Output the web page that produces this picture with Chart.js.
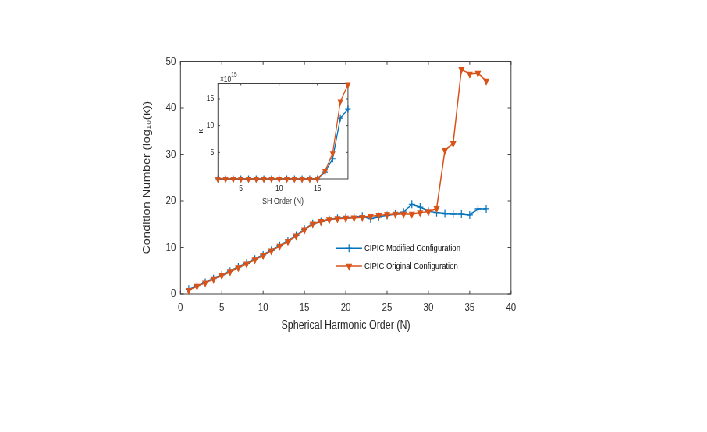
<!DOCTYPE html>
<html>
<head>
<meta charset="utf-8">
<script src="https://cdn.jsdelivr.net/npm/chart.js@4.4.0/dist/chart.umd.min.js"></script>
<style>
html, body { margin: 0; padding: 0; overflow: hidden; background: #fff; }
/* a figura original tem o texto comprimido na horizontal: desenho largo e comprimo */
#quadro { position: absolute; left: 0; top: 0; width: 906px; height: 432px; transform: scaleX(0.7804); transform-origin: 0 0; }
#principal { position: absolute; left: 0; top: 0; }
#detalhe { position: absolute; left: 250px; top: 65px; }
</style>
</head>
<body>
<div id="quadro">
  <canvas id="principal" width="906" height="432"></canvas>
  <canvas id="detalhe" width="204" height="150"></canvas>
</div>
<script>
// Ordem harmonica (eixo x do grafico principal)
const ordemSH = [1, 2, 3, 4, 5, 6, 7, 8, 9, 10, 11, 12, 13, 14, 15, 16, 17, 18, 19, 20,
                 21, 22, 23, 24, 25, 26, 27, 28, 29, 30, 31, 32, 33, 34, 35, 36, 37];
// log10(kappa) - configuracao modificada
const condModificada = [1.0, 1.8, 2.5, 3.3, 4.1, 4.9, 5.8, 6.6, 7.5, 8.4, 9.4, 10.4, 11.4, 12.6, 13.9,
                        15.1, 15.6, 16.0, 16.3, 16.4, 16.5, 16.7, 16.2, 16.6, 16.9, 17.2, 17.6, 19.3,
                        18.7, 17.8, 17.5, 17.3, 17.2, 17.2, 17.0, 18.3, 18.3];
// log10(kappa) - configuracao original
const condOriginal = [0.8, 1.7, 2.4, 3.2, 4.0, 4.8, 5.7, 6.5, 7.4, 8.3, 9.3, 10.3, 11.3, 12.5, 13.8,
                      15.1, 15.6, 16.0, 16.2, 16.3, 16.4, 16.5, 16.7, 16.9, 17.1, 17.2, 17.2, 17.2,
                      17.5, 17.7, 18.4, 30.9, 32.4, 48.3, 47.3, 47.5, 45.8];
const ticksX = [0, 5, 10, 15, 20, 25, 30, 35, 40];
const ticksY = [0, 10, 20, 30, 40, 50];

// Grafico pequeno: kappa em unidades de 10^15
const ordemDetalhe = [2, 3, 4, 5, 6, 7, 8, 9, 10, 11, 12, 13, 14, 15, 16, 17, 18, 19];
const kappaModificada = [0, 0, 0, 0, 0, 0, 0, 0, 0, 0, 0, 0, 0, 0, 1.3, 3.8, 11.4, 13.1];
const kappaOriginal = [0, 0, 0, 0, 0, 0, 0, 0, 0, 0, 0, 0, 0, 0, 1.5, 4.8, 14.5, 17.7];
const ticksXDetalhe = [5, 10, 15];
const ticksYDetalhe = [5, 10, 15];

const nomes = ["CIPIC Modified Configuration", "CIPIC Original Configuration"];
const AZUL = "#0072BD";
const LARANJA = "#D95319";
const TEXTO = "#262626";

Chart.defaults.font.family = "'Liberation Sans', Arial, sans-serif";
Chart.defaults.color = TEXTO;

// caixa estilo MATLAB com marcas para dentro nos quatro lados
const caixaPlugin = {
    id: "caixa",
    beforeDatasetsDraw(chart, args, opts) {
        const { ctx, chartArea: a, scales } = chart;
        ctx.save();
        ctx.strokeStyle = "#404040";
        ctx.lineWidth = 1;
        ctx.strokeRect(a.left, a.top, a.right - a.left, a.bottom - a.top);
        ctx.beginPath();
        scales.x.ticks.forEach(t => {
            const px = scales.x.getPixelForValue(t.value);
            ctx.moveTo(px, a.bottom); ctx.lineTo(px, a.bottom - opts.tx);
            ctx.moveTo(px, a.top); ctx.lineTo(px, a.top + opts.tx);
        });
        scales.y.ticks.forEach(t => {
            const py = scales.y.getPixelForValue(t.value);
            ctx.moveTo(a.left, py); ctx.lineTo(a.left + opts.ty, py);
            ctx.moveTo(a.right, py); ctx.lineTo(a.right - opts.ty, py);
        });
        ctx.stroke();
        ctx.restore();
    }
};

// legenda sem moldura dentro da area do grafico
const legendaPlugin = {
    id: "legenda",
    afterDraw(chart, args, opts) {
        if (!opts.mostrar) return;
        const ctx = chart.ctx;
        chart.data.datasets.forEach((ds, i) => {
            const y = opts.y + i * opts.passo;
            ctx.save();
            ctx.strokeStyle = ds.borderColor;
            ctx.lineWidth = ds.borderWidth;
            ctx.beginPath();
            ctx.moveTo(opts.x, y);
            ctx.lineTo(opts.x + opts.comp, y);
            ctx.stroke();
            ctx.fillStyle = ds.pointBackgroundColor;
            ctx.strokeStyle = ds.pointBorderColor;
            ctx.lineWidth = ds.pointBorderWidth;
            Chart.helpers.drawPoint(ctx, {
                pointStyle: ds.pointStyle,
                rotation: ds.pointRotation || 0,
                radius: ds.pointRadius,
                borderWidth: ds.pointBorderWidth
            }, opts.x + opts.comp / 2, y);
            ctx.fillStyle = "#000";
            ctx.font = opts.fonte;
            ctx.textBaseline = "middle";
            ctx.fillText(ds.label, opts.x + opts.comp + 3, y);
            ctx.restore();
        });
    }
};

// "x10^15" acima do grafico pequeno
const expoentePlugin = {
    id: "expoente",
    afterDraw(chart, args, opts) {
        if (!opts.mostrar) return;
        const ctx = chart.ctx;
        ctx.save();
        ctx.fillStyle = TEXTO;
        ctx.textBaseline = "alphabetic";
        ctx.font = "8.5px 'Liberation Sans', Arial, sans-serif";
        ctx.fillText("\u00d710", opts.x, opts.y);
        const w = ctx.measureText("\u00d710").width;
        ctx.font = "6.5px 'Liberation Sans', Arial, sans-serif";
        ctx.fillText("15", opts.x + w, opts.y - 5);
        ctx.restore();
    }
};

function fixarTicks(lista) {
    return scale => { scale.ticks = lista.map(v => ({ value: v })); };
}

function pontos(xs, ys) {
    return xs.map((x, i) => ({ x: x, y: ys[i] }));
}

function serie(rotulo, xs, ys, cor, estilo, raio, largura) {
    return {
        label: rotulo,
        data: pontos(xs, ys),
        borderColor: cor,
        borderWidth: largura,
        pointStyle: estilo,
        pointRotation: estilo === "triangle" ? 180 : 0,
        pointRadius: raio,
        pointBackgroundColor: cor,
        pointBorderColor: cor,
        pointBorderWidth: 1.2,
        tension: 0,
        clip: false
    };
}

// ---------- grafico principal ----------
const dsAzul = serie(nomes[0], ordemSH, condModificada, AZUL, "cross", 4, 1.5);
const dsLaranja = serie(nomes[1], ordemSH, condOriginal, LARANJA, "triangle", 3.5, 1.5);
dsAzul.order = 2;
dsLaranja.order = 1;

new Chart(document.getElementById("principal").getContext("2d"), {
    type: "line",
    data: { datasets: [dsAzul, dsLaranja] },
    options: {
        responsive: false,
        animation: false,
        devicePixelRatio: 1,
        layout: { padding: { left: 180.9, top: 61.5, right: 251.2, bottom: 98.5 } },
        plugins: {
            legend: { display: false },
            tooltip: { enabled: false },
            caixa: { tx: 3.3, ty: 4.3 },
            legenda: { mostrar: true, x: 430.6, y: 248.3, passo: 17.7, comp: 33.3,
                       fonte: "9.5px 'Liberation Sans', Arial, sans-serif" },
            expoente: { mostrar: false }
        },
        scales: {
            x: {
                type: "linear", min: 0, max: 40,
                grid: { display: false, drawTicks: false },
                border: { display: false },
                afterBuildTicks: fixarTicks(ticksX),
                afterFit: s => { s.height = 39.5; },
                ticks: { padding: 7, font: { size: 11.5 }, color: TEXTO, maxRotation: 0 },
                title: { display: true, text: "Spherical Harmonic Order (N)", padding: 0,
                         font: { size: 12.5 }, color: TEXTO }
            },
            y: {
                type: "linear", min: 0, max: 50,
                grid: { display: false, drawTicks: false },
                border: { display: false },
                afterBuildTicks: fixarTicks(ticksY),
                afterFit: s => { s.width = 50.4; },
                ticks: { padding: 6, font: { size: 11.5 }, color: TEXTO },
                title: { display: true, text: "Condition Number (log\u2081\u2080(\u03ba))", padding: 0,
                         font: { size: 12.5 }, color: TEXTO }
            }
        }
    },
    plugins: [caixaPlugin, legendaPlugin, expoentePlugin]
});

// ---------- grafico pequeno ----------
const dsAzulD = serie(nomes[0], ordemDetalhe, kappaModificada, AZUL, "cross", 3.5, 1.3);
const dsLaranjaD = serie(nomes[1], ordemDetalhe, kappaOriginal, LARANJA, "triangle", 3, 1.3);
dsAzulD.order = 2;
dsLaranjaD.order = 1;

new Chart(document.getElementById("detalhe").getContext("2d"), {
    type: "line",
    data: { datasets: [dsAzulD, dsLaranjaD] },
    options: {
        responsive: false,
        animation: false,
        devicePixelRatio: 1,
        layout: { padding: { left: 2.2, top: 18.5, right: 8.1, bottom: 8 } },
        plugins: {
            legend: { display: false },
            tooltip: { enabled: false },
            caixa: { tx: 2, ty: 2.6 },
            legenda: { mostrar: false },
            expoente: { mostrar: true, x: 31.9, y: 16.7 }
        },
        scales: {
            x: {
                type: "linear", min: 2, max: 19,
                grid: { display: false, drawTicks: false },
                border: { display: false },
                afterBuildTicks: fixarTicks(ticksXDetalhe),
                afterFit: s => { s.height = 28; },
                ticks: { padding: 4.6, font: { size: 8.5 }, color: TEXTO, maxRotation: 0 },
                title: { display: true, text: "SH Order (N)", padding: 0, font: { size: 9 }, color: TEXTO }
            },
            y: {
                type: "linear", min: 0, max: 17.9,
                grid: { display: false, drawTicks: false },
                border: { display: false },
                afterBuildTicks: fixarTicks(ticksYDetalhe),
                afterFit: s => { s.width = 27.1; },
                ticks: { padding: 5, font: { size: 8.5 }, color: TEXTO },
                title: { display: true, text: "\u03ba", padding: 0, font: { size: 9 }, color: TEXTO }
            }
        }
    },
    plugins: [caixaPlugin, legendaPlugin, expoentePlugin]
});
</script>
</body>
</html>
